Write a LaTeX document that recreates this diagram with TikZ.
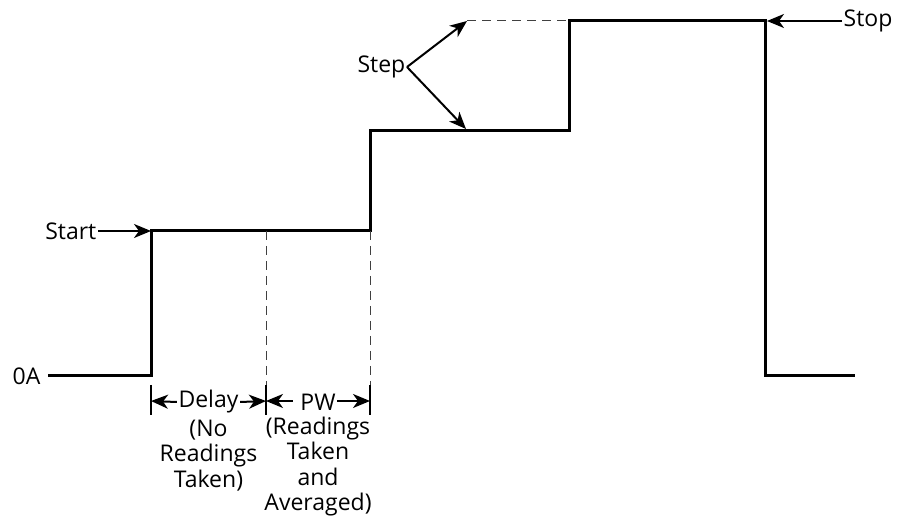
\documentclass[tikz,border=0pt]{standalone}
\usepackage{fontspec}
\setmainfont{Open Sans}
\usetikzlibrary{arrows.meta,positioning,calc}
\tikzstyle{wave}    = [line width=3pt, line join=miter]
\tikzstyle{guide}   = [line width=1pt, black!75, dash pattern=on 9pt off 6pt]
\tikzstyle{tick}    = [line width=1.2pt]
\tikzstyle{pointer} = [line width=2pt, -{Stealth[length=17pt,width=14pt,inset=5pt]}]
\tikzstyle{txt}     = [font=\fontsize{23}{25.5}\selectfont, inner sep=1.5pt, align=center]

\begin{document}
\begin{tikzpicture}[x=1pt, y=1pt]
    \useasboundingbox (0,0) rectangle (898,520);

    % Corners of the output waveform
    \coordinate (z0) at (48,144);
    \coordinate (z1) at (151,144);
    \coordinate (s1) at (151,289);
    \coordinate (p1) at (370,289);
    \coordinate (s2) at (370,389);
    \coordinate (p2) at (569,389);
    \coordinate (s3) at (569,499);
    \coordinate (p3) at (765,499);
    \coordinate (z2) at (765,144);
    \coordinate (z3) at (855,144);
    \draw[wave] (z0) -- (z1) -- (s1) -- (p1) -- (s2) -- (p2) -- (s3) -- (p3) -- (z2) -- (z3);

    % Next step level (dashed)
    \coordinate (u) at (467,499);
    \draw[guide] (u) -- (s3);

    % Delay and pulse width guides
    \coordinate (d0) at (151,119);
    \coordinate (d1) at (266,119);
    \coordinate (d2) at (370,119);
    \draw[guide] (266,289) -- (266,135);
    \draw[guide] (p1) -- (370,135);
    \foreach \x in {151,266,370}
        \draw[tick] (\x,135) -- (\x,105);

    % Delay label
    \node(delay)[txt] at (208.5,118) {Delay};
    \node(delaynote)[txt, below=3pt of delay] {(No\\Readings\\Taken)};
    \draw[pointer] (delay.west) -- (d0);
    \draw[pointer] (delay.east) -- (d1);

    % Pulse width label
    \node(pw)[txt] at (318,118) {PW};
    \node(pwnote)[txt, below=3pt of pw] {(Readings\\Taken\\and\\Averaged)};
    \draw[pointer] ($(pw.west)+(-6,1)$) -- (d1);
    \draw[pointer] ($(pw.east)+(0,1)$) -- (d2);

    % Step label
    \coordinate (apex) at (407,453);
    \coordinate (l) at (466,391);
    \node(step)[txt, anchor=east] at (apex) {Step};
    \draw[pointer] (apex) -- (u);
    \draw[pointer] (apex) -- (l);

    % Start, stop and zero labels
    \node(start)[txt, anchor=east] at (98,289) {Start};
    \draw[pointer] (start.east) -- (s1);
    \node(stop)[txt, anchor=west] at (842,499) {Stop};
    \draw[pointer, shorten >=2pt] (stop.west) -- (p3);
    \node(zero)[txt, anchor=east] at (42,144) {0A};

\end{tikzpicture}
\end{document}
